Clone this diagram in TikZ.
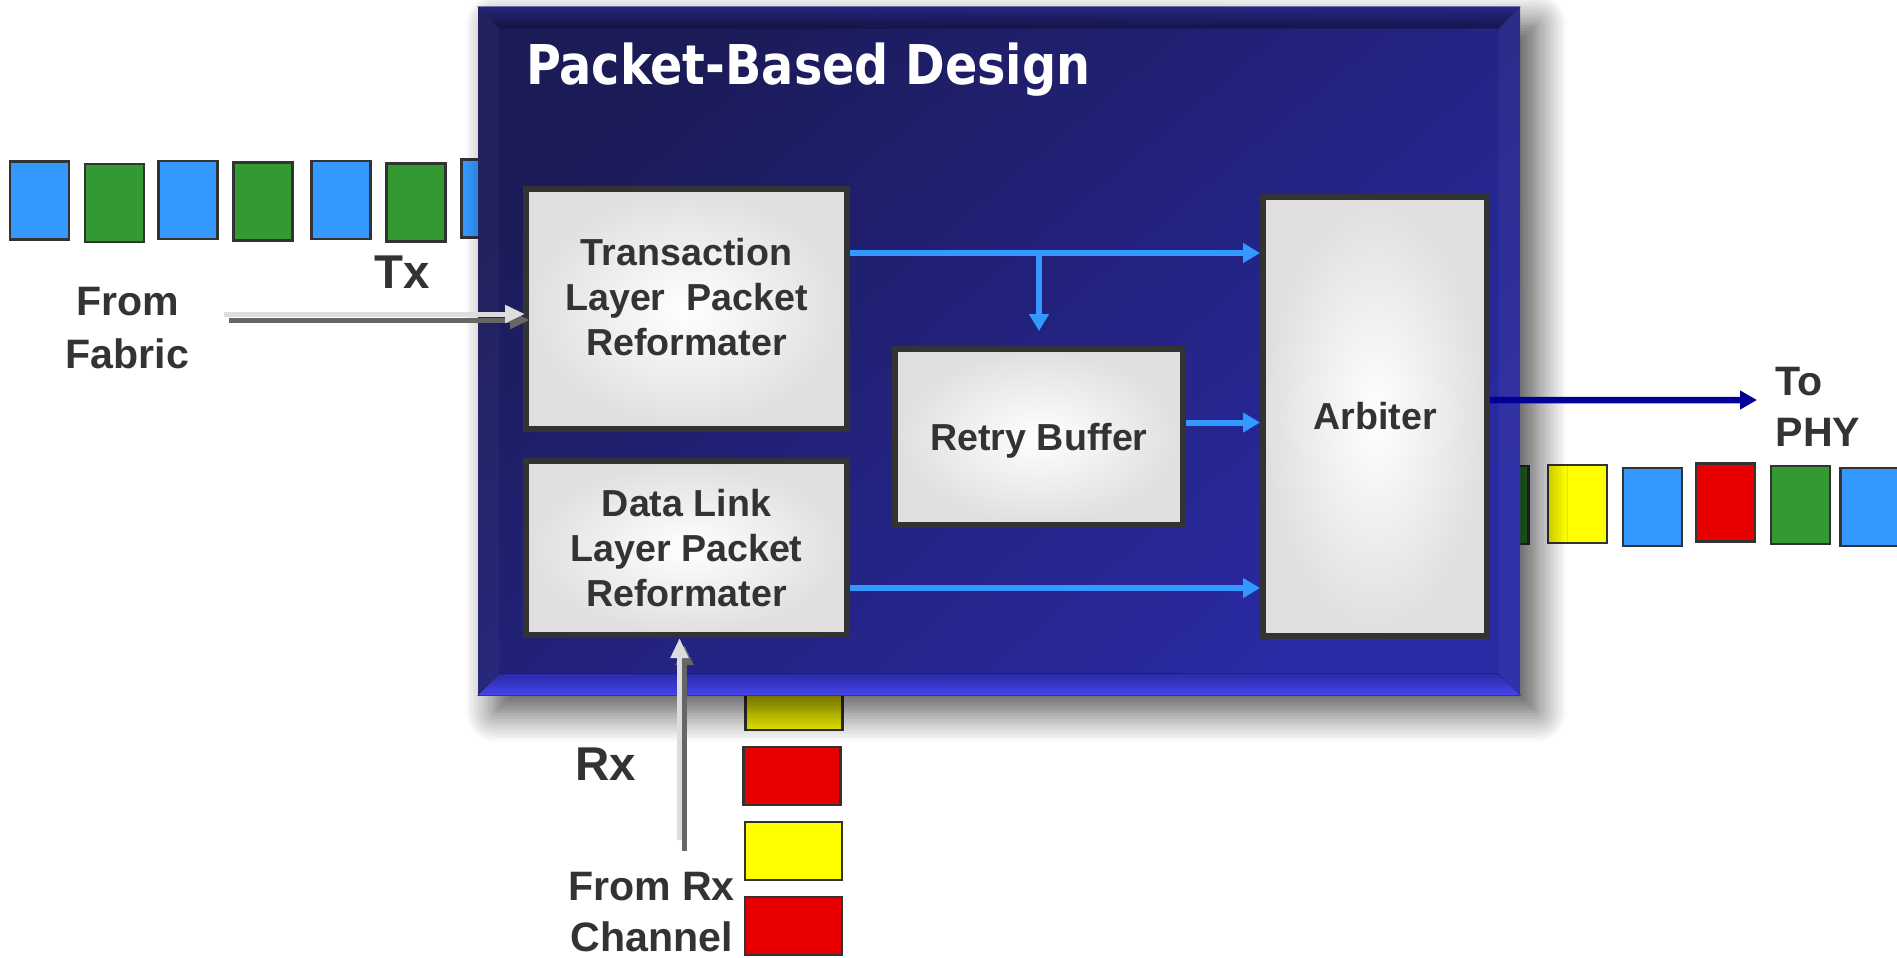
\documentclass[tikz,border=0pt]{standalone}
\usepackage{fontspec}
\setmainfont{Liberation Sans}
\newfontfamily\titrefont[FakeStretch=0.87]{DejaVu Sans}
\usetikzlibrary{calc,positioning,arrows.meta,shadows.blur}

\definecolor{bleuPaquet}{HTML}{3399FF}
\definecolor{vertPaquet}{HTML}{339933}
\definecolor{rougePaquet}{HTML}{E80000}
\definecolor{jaunePaquet}{HTML}{FFFF00}
\definecolor{bord}{HTML}{333333}
\definecolor{fondHaut}{HTML}{1B1B58}
\definecolor{fondBas}{HTML}{2A2AA5}
\definecolor{biseauHaut}{HTML}{3B3BC8}
\definecolor{biseauBas}{HTML}{4646EE}
\definecolor{flecheBleue}{HTML}{3399FF}
\definecolor{flechePhy}{HTML}{000099}
\definecolor{grisClair}{HTML}{DDDDDD}
\definecolor{grisFonce}{HTML}{666666}

\begin{document}
\begin{tikzpicture}[node distance=0.75cm]
        \tikzstyle{paquet} = [rectangle, minimum width=0.59cm, minimum height=0.78cm, inner sep=0pt, draw=bord, line width=0.6pt]
        \tikzstyle{paquet_rx} = [rectangle, minimum width=0.97cm, minimum height=0.58cm, inner sep=0pt, draw=bord, line width=0.6pt]
        \tikzstyle{bloc} = [rectangle, draw=bord, line width=1.7pt, inner color=white, outer color=gray!25, text=bord, align=center, font=\bfseries\fontsize{10.7}{12.8}\selectfont]
        \tikzstyle{fleche} = [draw=flecheBleue, line width=1.7pt, -{Triangle[length=0.17cm,width=0.19cm]}]
        \tikzstyle{fleche_grise} = [line width=0.05cm, -{Triangle[length=0.2cm,width=0.17cm]}]
        \tikzstyle{etiquette} = [text=bord, inner sep=0pt, align=center, font=\bfseries\fontsize{11.7}{15}\selectfont]
        \tikzstyle{sens} = [text=bord, inner sep=0pt, font=\bfseries\fontsize{13.5}{16}\selectfont]

        \useasboundingbox (0,0) rectangle (18.97,-9.57);
        \clip (0,0) rectangle (18.97,-9.57);

        % paquets Tx
        \node (tx1) [paquet, fill=bleuPaquet] at (0.395,-2.005) {};
        \node (tx2) [paquet, fill=vertPaquet, right of=tx1, yshift=-0.025cm] {};
        \node (tx3) [paquet, fill=bleuPaquet, right of=tx2, xshift=-0.015cm, yshift=0.03cm] {};
        \node (tx4) [paquet, fill=vertPaquet, right of=tx3, yshift=-0.015cm] {};
        \node (tx5) [paquet, fill=bleuPaquet, right of=tx4, xshift=0.03cm, yshift=0.015cm] {};
        \node (tx6) [paquet, fill=vertPaquet, right of=tx5, yshift=-0.025cm] {};
        \node (tx7) [paquet, fill=bleuPaquet, right of=tx6, yshift=0.04cm] {};

        % paquets PHY
        \node (phy1) [paquet, fill=vertPaquet] at (14.99,-5.05) {};
        \node (phy2) [paquet, fill=jaunePaquet, right of=phy1, xshift=0.035cm, yshift=0.01cm] {};
        \node (phy3) [paquet, fill=bleuPaquet, right of=phy2, yshift=-0.03cm] {};
        \node (phy4) [paquet, fill=rougePaquet, right of=phy3, xshift=-0.02cm, yshift=0.045cm] {};
        \node (phy5) [paquet, fill=vertPaquet, right of=phy4, yshift=-0.025cm] {};
        \node (phy6) [paquet, fill=bleuPaquet, right of=phy5, xshift=-0.055cm, yshift=-0.02cm] {};

        % paquets Rx
        \node (rx1) [paquet_rx, fill=jaunePaquet] at (7.94,-7.01) {};
        \node (rx2) [paquet_rx, fill=rougePaquet, below of=rx1, xshift=-0.02cm] {};
        \node (rx3) [paquet_rx, fill=jaunePaquet, below of=rx2, xshift=0.015cm] {};
        \node (rx4) [paquet_rx, fill=rougePaquet, below of=rx3] {};

        % boite principale
        \node (design) [rectangle, minimum width=10.42cm, minimum height=6.88cm, inner sep=0pt, top color=fondHaut, bottom color=fondBas, shading angle=40,
            blur shadow={shadow xshift=0.17cm, shadow yshift=-0.17cm, shadow blur radius=0.3cm, shadow blur steps=12, shadow opacity=70}] at (9.99,-3.51) {};
        \fill[top color=biseauHaut, bottom color=fondHaut, fill opacity=0.55] (design.north west) -- (design.north east) -- ($(design.north east)+(-0.22,-0.22)$) -- ($(design.north west)+(0.22,-0.22)$) -- cycle;
        \fill[white, fill opacity=0.04] (design.north east) -- (design.south east) -- ($(design.south east)+(-0.22,0.22)$) -- ($(design.north east)+(-0.22,-0.22)$) -- cycle;
        \fill[white, fill opacity=0.03] (design.north west) -- (design.south west) -- ($(design.south west)+(0.22,0.22)$) -- ($(design.north west)+(0.22,-0.22)$) -- cycle;
        \fill[top color=fondBas, bottom color=biseauBas] (design.south west) -- (design.south east) -- ($(design.south east)+(-0.22,0.22)$) -- ($(design.south west)+(0.22,0.22)$) -- cycle;
        \node (titre) [text=white, inner sep=0pt, anchor=base west, font=\titrefont\bfseries\fontsize{15.6}{18}\selectfont] at ($(design.north west)+(0.48,-0.78)$) {Packet-Based Design};

        % blocs
        \node (tlp) [bloc, minimum width=3.21cm, minimum height=2.40cm, text depth=0.25cm] at (6.865,-3.09) {Transaction\\Layer\ \ Packet\\Reformater};
        \node (dllp) [bloc, minimum width=3.21cm, minimum height=1.74cm, below of=tlp, yshift=-1.64cm] {Data Link\\Layer Packet\\Reformater};
        \node (retry_buffer) [bloc, minimum width=2.88cm, minimum height=1.76cm, text depth=0pt, right of=tlp, xshift=2.775cm, yshift=-1.28cm] {Retry Buffer};
        \node (arbiter) [bloc, minimum width=2.24cm, minimum height=4.39cm, right of=retry_buffer, xshift=2.61cm, yshift=0.205cm] {Arbiter};

        % fleches internes
        \coordinate (tlp_sortie) at ($(tlp.north east)+(0,-0.67)$);
        \coordinate (retry_sortie) at ($(retry_buffer.east)+(0,0.145)$);
        \coordinate (dllp_sortie) at ($(dllp.east)+(0,-0.40)$);
        \draw[fleche] (tlp_sortie) -- (tlp_sortie -| arbiter.west);
        \draw[fleche] (tlp_sortie -| retry_buffer.north) -- ($(retry_buffer.north)+(0,0.15)$);
        \draw[fleche] (retry_sortie) -- (retry_sortie -| arbiter.west);
        \draw[fleche] (dllp_sortie) -- (dllp_sortie -| arbiter.west);

        % vers PHY
        \coordinate (arbiter_sortie) at ($(arbiter.east)+(0,0.165)$);
        \coordinate (vers_phy) at (17.57,-4.00);
        \draw[draw=flechePhy, line width=0.065cm, -{Triangle[length=0.17cm,width=0.18cm]}] (arbiter_sortie) -- (vers_phy);
        \node (to_phy) [etiquette, align=left, anchor=west, font=\bfseries\fontsize{11.7}{14.5}\selectfont] at (17.75,-4.07) {To\\PHY};

        % depuis la fabrique
        \coordinate (fabric) at (2.24,-3.14);
        \coordinate (fabric_ombre) at (2.29,-3.20);
        \draw[fleche_grise, draw=grisFonce, fill=grisFonce] (fabric_ombre) -- ($(tlp.west |- fabric_ombre)+(0.07,0)$);
        \draw[fleche_grise, draw=grisClair, fill=grisClair] (fabric) -- ($(tlp.west |- fabric)+(0.02,0)$);
        \node (from_fabric) [etiquette] at (1.275,-3.28) {From\\Fabric};
        \node (tx) [sens] at (4.017,-2.725) {Tx};

        % depuis le canal Rx
        \coordinate (rx_canal) at (6.795,-8.40);
        \coordinate (rx_ombre) at (6.845,-8.51);
        \draw[fleche_grise, draw=grisFonce, fill=grisFonce] (rx_ombre) -- ($(rx_ombre |- dllp.south)+(0,-0.07)$);
        \draw[fleche_grise, draw=grisClair, fill=grisClair] (rx_canal) -- (rx_canal |- dllp.south);
        \node (rx) [sens] at (6.06,-7.645) {Rx};
        \node (from_rx) [etiquette, font=\bfseries\fontsize{11.7}{14.5}\selectfont] at (6.515,-9.125) {From Rx\\Channel};
\end{tikzpicture}
\end{document}
